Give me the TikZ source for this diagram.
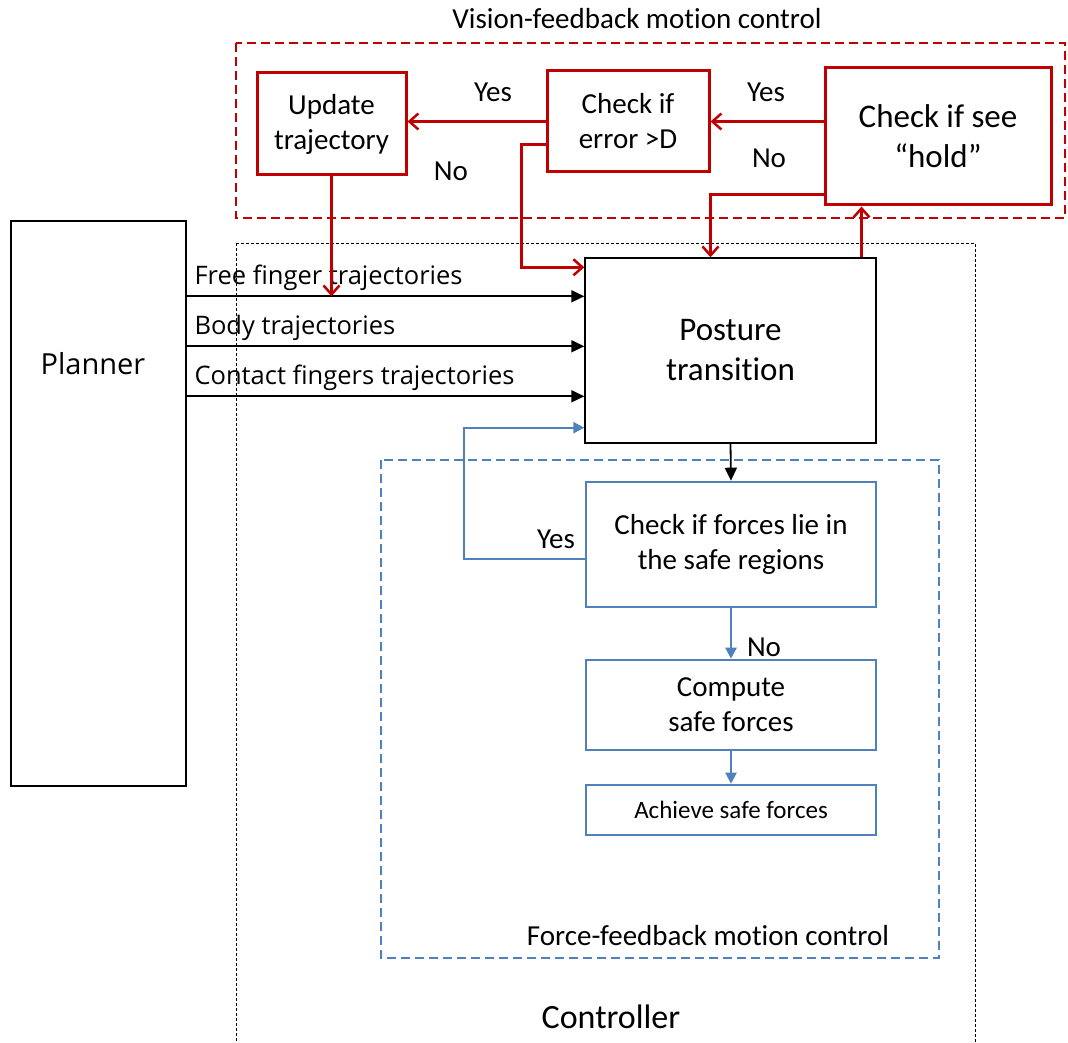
\documentclass[tikz,border=0pt]{standalone}
\usepackage{fontspec}
\setmainfont[Ligatures=NoCommon]{Carlito}
\newfontfamily\plainsans{Open Sans}
\usetikzlibrary{arrows.meta,calc}

\definecolor{visred}{HTML}{C00000}
\definecolor{forceblue}{HTML}{4F81BD}

\tikzset{
  redbox/.style={draw=visred, line width=3pt, align=center, inner sep=2pt},
  bluebox/.style={draw=forceblue, line width=2.6pt, align=center, inner sep=2pt},
  blackbox/.style={draw=black, line width=1.4pt, align=center, inner sep=2pt},
  redline/.style={visred, line width=2.8pt, -{Straight Barb[length=9pt,width=16pt,line width=2.5pt]}},
  blueline/.style={forceblue, line width=2.4pt, -{Triangle[length=11pt,width=11pt]}},
  blackline/.style={black, line width=1.8pt, -{Triangle[length=13pt,width=12pt]}},
  lbl/.style={font=\fontsize{29}{35}\selectfont},
  biglbl/.style={font=\fontsize{33}{40}\selectfont},
  trajlbl/.style={font=\plainsans\fontsize{25.5}{30}\selectfont, anchor=base west},
}

\begin{document}
\begin{tikzpicture}[x=1pt,y=-1pt]
    \useasboundingbox (0,0) rectangle (1068,1043);

    % frames
    \draw[visred, line width=2.5pt, dash pattern=on 9pt off 5pt] (236,43) rectangle (1065,218);
    \node[lbl, anchor=base] (vistitle) at (637,29) {Vision-feedback motion control};
    \draw[black, line width=1pt, dash pattern=on 3pt off 2pt] (236,243) -- (975,243) -- (975,1060) (236,243) -- (236,1060);
    \node[font=\fontsize{34}{40}\selectfont, anchor=base] (ctrltitle) at (611,1028) {Controller};
    \draw[forceblue, line width=2.5pt, dash pattern=on 9pt off 5pt] (381,460) rectangle (939,958);
    \node[lbl, anchor=base] (forcetitle) at (708,945) {Force-feedback motion control};

    % vision loop
    \node[redbox, lbl, minimum width=149, minimum height=102] (upd) at (331.5,124) {Update\\trajectory};
    \node[redbox, lbl, minimum width=162, minimum height=101] (err) at (628,121.5) {Check if\\error >D};
    \node[redbox, biglbl, minimum width=226, minimum height=137] (hold) at (938,136.5) {Check if see\\“hold”};

    % planner and posture block
    \node[blackbox, minimum width=175, minimum height=565] (plan) at (98.5,503.5) {};
    \node[font=\plainsans\fontsize{29}{34}\selectfont] (plantxt) at (93,364) {Planner};
    \node[blackbox, biglbl, minimum width=291, minimum height=185] (post) at (730.5,350.5) {Posture\\transition};

    % force loop
    \node[bluebox, lbl, minimum width=290, minimum height=125] (chk) at (731,544.5) {Check if forces lie in\\the safe regions};
    \node[bluebox, lbl, minimum width=290, minimum height=90] (comp) at (731,705) {Compute\\safe forces};
    \node[bluebox, font=\fontsize{25}{30}\selectfont, minimum width=290, minimum height=50] (ach) at (731,810) {Achieve safe forces};

    % trajectories from the planner
    \coordinate (tfree) at ($(post.north west)+(0,39)$);
    \coordinate (tbody) at ($(post.north west)+(0,89)$);
    \coordinate (tcont) at ($(post.north west)+(0,139)$);
    \draw[blackline] (plan.east |- tfree) -- (tfree);
    \draw[blackline] (plan.east |- tbody) -- (tbody);
    \draw[blackline] (plan.east |- tcont) -- (tcont);
    \node[trajlbl] (lfree) at (191,284) {Free finger trajectories};
    \node[trajlbl] (lbody) at (191,334) {Body trajectories};
    \node[trajlbl] (lcont) at (191,384) {Contact fingers trajectories};

    % vision arrows
    \draw[redline] (err.west) -- (upd.east |- err.west);
    \draw[redline] (hold.west |- err.east) -- (err.east);
    \draw[redline] ($(err.south west)+(0,-29)$) -- ++(-24,0) |- ($(post.north west)+(0,10)$);
    \draw[redline] ($(hold.south west)+(0,-12)$) -| ($(post.north)+(-20,0)$);
    \draw[redline] ($(post.north)+(131,0)$) coordinate (pup) -- (pup |- hold.south);
    \draw[redline] (upd.south) -- (upd.south |- tfree);
    \node[lbl, anchor=base] (yes1) at (493,102) {Yes};
    \node[lbl, anchor=base] (yes2) at (766,102) {Yes};
    \node[lbl, anchor=base] (no1) at (769,168) {No};
    \node[lbl, anchor=base] (no2) at (451,181) {No};

    % force arrows
    \draw[blackline] (post.south) -- (chk.north);
    \draw[blueline] ($(chk.west)+(0,14.5)$) -- ++(-121,0) |- ($(post.south west)+(0,-16)$);
    \draw[blueline] (chk.south) -- (comp.north);
    \draw[blueline] (comp.south) -- (ach.north);
    \node[lbl, anchor=base] (yes3) at (556,548) {Yes};
    \node[lbl, anchor=base] (no3) at (764,656) {No};
\end{tikzpicture}
\end{document}
